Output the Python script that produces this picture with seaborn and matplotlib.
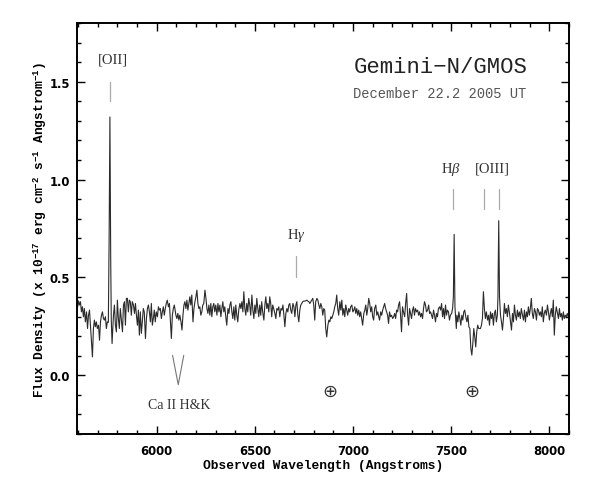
import seaborn as sns
import pandas as pd
import matplotlib.pyplot as plt
from matplotlib.ticker import MultipleLocator

# Spectrum (wavelength in Angstroms, flux in 1e-17 units)
wavelength = [
    5598, 5602, 5607, 5612, 5617, 5622, 5627, 5632, 5637, 5643, 5648, 5653, 5658, 5663,
    5668, 5673, 5678, 5683, 5688, 5693, 5698, 5704, 5709, 5714, 5719, 5724, 5729, 5734,
    5739, 5744, 5749, 5754, 5758, 5762, 5766, 5769, 5773, 5777, 5780, 5785, 5790, 5795,
    5800, 5805, 5810, 5815, 5821, 5826, 5831, 5836, 5841, 5846, 5851, 5856, 5861, 5866,
    5871, 5876, 5882, 5887, 5892, 5897, 5902, 5907, 5912, 5917, 5922, 5927, 5932, 5937,
    5943, 5948, 5953, 5958, 5963, 5968, 5973, 5978, 5983, 5988, 5993, 5998, 6004, 6009,
    6014, 6019, 6024, 6029, 6034, 6039, 6044, 6049, 6054, 6060, 6065, 6070, 6075, 6080,
    6085, 6090, 6095, 6098, 6103, 6108, 6113, 6118, 6124, 6129, 6134, 6139, 6144, 6149,
    6154, 6159, 6164, 6169, 6174, 6179, 6185, 6190, 6195, 6200, 6205, 6210, 6215, 6220,
    6225, 6230, 6235, 6240, 6246, 6251, 6256, 6261, 6266, 6271, 6276, 6281, 6286, 6291,
    6296, 6301, 6307, 6312, 6317, 6322, 6327, 6332, 6337, 6342, 6347, 6352, 6357, 6363,
    6368, 6373, 6378, 6383, 6388, 6393, 6398, 6403, 6408, 6413, 6418, 6424, 6429, 6434,
    6439, 6444, 6449, 6454, 6459, 6464, 6469, 6474, 6479, 6485, 6490, 6495, 6500, 6505,
    6510, 6515, 6520, 6525, 6530, 6535, 6540, 6546, 6551, 6556, 6561, 6566, 6571, 6576,
    6581, 6586, 6591, 6596, 6602, 6607, 6612, 6617, 6622, 6627, 6633, 6638, 6643, 6648,
    6653, 6658, 6663, 6668, 6673, 6678, 6683, 6688, 6694, 6699, 6704, 6709, 6714, 6719,
    6724, 6729, 6734, 6739, 6744, 6749, 6755, 6760, 6765, 6770, 6775, 6780, 6785, 6790,
    6795, 6800, 6805, 6810, 6816, 6821, 6826, 6831, 6836, 6841, 6846, 6851, 6856, 6861,
    6866, 6872, 6877, 6882, 6887, 6892, 6897, 6902, 6907, 6912, 6917, 6922, 6927, 6933,
    6938, 6943, 6948, 6953, 6958, 6963, 6968, 6973, 6978, 6983, 6988, 6994, 6999, 7004,
    7009, 7014, 7019, 7024, 7029, 7034, 7039, 7044, 7049, 7055, 7060, 7065, 7070, 7075,
    7080, 7085, 7090, 7095, 7100, 7105, 7110, 7116, 7121, 7126, 7131, 7135, 7141, 7146,
    7151, 7156, 7161, 7166, 7171, 7176, 7181, 7186, 7191, 7196, 7202, 7207, 7212, 7217,
    7222, 7227, 7232, 7237, 7242, 7247, 7252, 7257, 7263, 7268, 7273, 7278, 7283, 7288,
    7293, 7298, 7303, 7308, 7313, 7318, 7324, 7329, 7334, 7339, 7344, 7349, 7354, 7359,
    7364, 7369, 7374, 7380, 7385, 7390, 7395, 7400, 7405, 7410, 7415, 7420, 7425, 7430,
    7435, 7441, 7446, 7451, 7456, 7461, 7466, 7471, 7476, 7481, 7486, 7491, 7496, 7502,
    7507, 7511, 7515, 7519, 7522, 7526, 7529, 7534, 7539, 7544, 7549, 7554, 7559, 7564,
    7569, 7574, 7580, 7585, 7590, 7595, 7600, 7605, 7610, 7615, 7620, 7625, 7630, 7635,
    7640, 7649, 7654, 7659, 7664, 7669, 7674, 7679, 7685, 7690, 7695, 7700, 7705, 7710,
    7715, 7720, 7725, 7730, 7735, 7738, 7742, 7746, 7751, 7756, 7761, 7766, 7771, 7776,
    7781, 7786, 7791, 7796, 7801, 7807, 7812, 7817, 7822, 7827, 7832, 7837, 7842, 7847,
    7852, 7857, 7863, 7868, 7873, 7878, 7883, 7888, 7893, 7898, 7903, 7908, 7913, 7918,
    7924, 7929, 7934, 7939, 7944, 7949, 7954, 7959, 7964, 7969, 7974, 7979, 7985, 7990,
    7995, 8000, 8005, 8010, 8015, 8020, 8025, 8030, 8035, 8040, 8046, 8051, 8056, 8061,
    8066, 8071, 8076, 8081, 8086, 8091, 8096,
]
flux = [
    0.350, 0.380, 0.359, 0.376, 0.324, 0.350, 0.299, 0.341, 0.273, 0.324, 0.239, 0.307, 0.333, 0.256,
    0.171, 0.094, 0.239, 0.282, 0.248, 0.273, 0.239, 0.256, 0.179, 0.273, 0.307, 0.324, 0.290, 0.282,
    0.299, 0.239, 0.273, 0.270, 0.700, 1.320, 0.600, 0.280, 0.162, 0.239, 0.307, 0.359, 0.256, 0.222,
    0.384, 0.290, 0.239, 0.341, 0.273, 0.222, 0.359, 0.376, 0.256, 0.393, 0.393, 0.324, 0.384, 0.376,
    0.307, 0.376, 0.359, 0.316, 0.367, 0.307, 0.256, 0.333, 0.205, 0.324, 0.214, 0.273, 0.341, 0.324,
    0.188, 0.290, 0.341, 0.359, 0.324, 0.273, 0.367, 0.256, 0.290, 0.333, 0.273, 0.324, 0.299, 0.350,
    0.333, 0.341, 0.290, 0.324, 0.350, 0.307, 0.341, 0.367, 0.384, 0.350, 0.367, 0.273, 0.188, 0.307,
    0.341, 0.359, 0.324, 0.307, 0.290, 0.316, 0.282, 0.307, 0.273, 0.231, 0.307, 0.359, 0.376, 0.341,
    0.384, 0.333, 0.367, 0.401, 0.359, 0.410, 0.273, 0.341, 0.376, 0.401, 0.435, 0.367, 0.341, 0.350,
    0.307, 0.324, 0.359, 0.367, 0.435, 0.393, 0.341, 0.316, 0.359, 0.307, 0.367, 0.299, 0.350, 0.367,
    0.324, 0.359, 0.307, 0.367, 0.324, 0.359, 0.299, 0.341, 0.376, 0.324, 0.350, 0.299, 0.256, 0.341,
    0.316, 0.359, 0.376, 0.324, 0.290, 0.350, 0.282, 0.359, 0.307, 0.273, 0.333, 0.367, 0.341, 0.376,
    0.324, 0.427, 0.341, 0.307, 0.367, 0.324, 0.393, 0.359, 0.307, 0.410, 0.333, 0.290, 0.359, 0.316,
    0.393, 0.341, 0.299, 0.359, 0.307, 0.376, 0.324, 0.282, 0.359, 0.401, 0.341, 0.367, 0.324, 0.401,
    0.367, 0.299, 0.359, 0.341, 0.316, 0.290, 0.341, 0.333, 0.350, 0.299, 0.341, 0.333, 0.359, 0.307,
    0.248, 0.316, 0.341, 0.324, 0.359, 0.367, 0.333, 0.316, 0.367, 0.350, 0.299, 0.359, 0.376, 0.307,
    0.273, 0.333, 0.359, 0.367, 0.376, 0.379, 0.379, 0.381, 0.384, 0.379, 0.376, 0.367, 0.376, 0.384,
    0.393, 0.359, 0.282, 0.376, 0.393, 0.384, 0.359, 0.341, 0.367, 0.350, 0.307, 0.341, 0.333, 0.239,
    0.196, 0.256, 0.282, 0.273, 0.299, 0.290, 0.307, 0.324, 0.350, 0.367, 0.410, 0.341, 0.307, 0.376,
    0.333, 0.384, 0.307, 0.341, 0.299, 0.359, 0.333, 0.307, 0.341, 0.324, 0.350, 0.359, 0.324, 0.333,
    0.350, 0.316, 0.341, 0.307, 0.333, 0.299, 0.324, 0.290, 0.256, 0.316, 0.333, 0.359, 0.307, 0.341,
    0.393, 0.367, 0.324, 0.350, 0.299, 0.282, 0.341, 0.359, 0.307, 0.324, 0.299, 0.282, 0.324, 0.307,
    0.333, 0.350, 0.367, 0.341, 0.324, 0.307, 0.265, 0.324, 0.299, 0.307, 0.290, 0.299, 0.316, 0.290,
    0.333, 0.324, 0.359, 0.376, 0.307, 0.222, 0.350, 0.324, 0.299, 0.367, 0.418, 0.307, 0.256, 0.341,
    0.316, 0.290, 0.333, 0.350, 0.307, 0.341, 0.324, 0.333, 0.307, 0.324, 0.299, 0.316, 0.290, 0.341,
    0.376, 0.359, 0.324, 0.333, 0.359, 0.316, 0.324, 0.307, 0.290, 0.333, 0.307, 0.273, 0.316, 0.299,
    0.341, 0.350, 0.333, 0.367, 0.299, 0.341, 0.290, 0.359, 0.307, 0.333, 0.324, 0.282, 0.307, 0.316,
    0.341, 0.400, 0.720, 0.350, 0.299, 0.239, 0.307, 0.273, 0.324, 0.290, 0.256, 0.307, 0.282, 0.324,
    0.333, 0.299, 0.273, 0.307, 0.248, 0.239, 0.137, 0.103, 0.162, 0.239, 0.196, 0.145, 0.222, 0.256,
    0.239, 0.239, 0.256, 0.290, 0.427, 0.341, 0.290, 0.324, 0.282, 0.307, 0.256, 0.324, 0.290, 0.316,
    0.256, 0.316, 0.333, 0.273, 0.307, 0.400, 0.790, 0.400, 0.307, 0.273, 0.231, 0.290, 0.367, 0.316,
    0.341, 0.299, 0.359, 0.324, 0.282, 0.231, 0.316, 0.273, 0.359, 0.307, 0.282, 0.333, 0.299, 0.324,
    0.290, 0.341, 0.307, 0.282, 0.333, 0.273, 0.324, 0.299, 0.350, 0.307, 0.341, 0.393, 0.316, 0.290,
    0.341, 0.324, 0.282, 0.341, 0.333, 0.307, 0.324, 0.299, 0.350, 0.273, 0.316, 0.333, 0.307, 0.359,
    0.324, 0.282, 0.316, 0.341, 0.299, 0.384, 0.205, 0.307, 0.350, 0.324, 0.290, 0.341, 0.299, 0.316,
    0.282, 0.324, 0.290, 0.307, 0.299, 0.316, 0.299,
]

# line identifications: label, label position, marker wavelength(s), marker range
line_labels = ["[OII]", r"H$\gamma$", r"H$\beta$", "[OIII]"]
label_x = [5776, 6712, 7500, 7711]
label_y = [1.617, 0.72, 1.057, 1.057]
marker_x = [[5762], [6712], [7509], [7666, 7742]]
marker_y = [(1.40, 1.50), (0.504, 0.607), (0.850, 0.952), (0.850, 0.952)]

# Ca II H&K absorption "V" and telluric symbols
cak_x = [6081, 6110, 6138]
cak_y = [0.102, -0.048, 0.102]
telluric_x = [6881, 7605]
telluric_y = -0.077

df = pd.DataFrame({"wavelength": wavelength, "flux": flux})

sns.set_style("ticks")
plt.rcParams["mathtext.fontset"] = "custom"
plt.rcParams["mathtext.rm"] = "Liberation Mono:bold"
plt.rcParams["mathtext.bf"] = "Liberation Mono:bold"
plt.rcParams["mathtext.it"] = "Liberation Serif:italic"
plt.rcParams["text.color"] = "black"
plt.rcParams["axes.labelcolor"] = "black"
plt.rcParams["xtick.color"] = "black"
plt.rcParams["ytick.color"] = "black"

fig = plt.figure(figsize=(5.92, 4.85), dpi=100)
ax = fig.add_axes([0.1306, 0.1031, 0.8306, 0.8474])

sns.lineplot(data=df, x="wavelength", y="flux", ax=ax, color="#2b2b2b",
             linewidth=0.8, sort=False, errorbar=None)

ax.set_xlim(5596, 8100)
ax.set_ylim(-0.3, 1.8)

# annotations
for lab, lx, ly in zip(line_labels, label_x, label_y):
    ax.text(lx, ly, lab, ha="center", va="center", fontsize=10.5,
            family="Liberation Serif", color="#333333")
for xs, (y0, y1) in zip(marker_x, marker_y):
    for xm in xs:
        ax.plot([xm, xm], [y0, y1], color="#aaaaaa", linewidth=0.9)

ax.plot(cak_x, cak_y, color="#777777", linewidth=0.8)
ax.text(6113, -0.15, "Ca II H&K", ha="center", va="center", fontsize=10,
        family="Liberation Serif", color="#333333")
for tx in telluric_x:
    ax.text(tx, telluric_y, "\u2295", ha="center", va="center", fontsize=13,
            family="DejaVu Sans", color="#333333")

ax.text(7446, 1.58, "Gemini\u2212N/GMOS", ha="center", va="center", fontsize=16,
        family=["Liberation Mono", "DejaVu Sans Mono"], color="#222222")
ax.text(7441, 1.441, "December 22.2 2005 UT", ha="center", va="center", fontsize=9.9,
        family="Liberation Mono", color="#555555")

# axes styling
ax.xaxis.set_major_locator(MultipleLocator(500))
ax.xaxis.set_minor_locator(MultipleLocator(100))
ax.yaxis.set_major_locator(MultipleLocator(0.5))
ax.yaxis.set_minor_locator(MultipleLocator(0.1))
ax.tick_params(which="both", direction="in", top=True, right=True, width=1.0,
               color="black", labelcolor="black")
ax.tick_params(which="major", length=6)
ax.tick_params(which="minor", length=3)
for lab in ax.get_xticklabels() + ax.get_yticklabels():
    lab.set_fontfamily("DejaVu Sans")
    lab.set_fontweight("bold")
    lab.set_fontsize(8.4)
ax.tick_params(axis="x", pad=7)
ax.tick_params(axis="y", pad=5)
for sp in ax.spines.values():
    sp.set_linewidth(1.4)
    sp.set_color("black")

ax.set_xlabel("Observed Wavelength (Angstroms)", fontsize=9.25,
              family="Liberation Mono", fontweight="bold", color="black")
ax.set_ylabel("Flux Density (x 10$^{-17}$ erg cm$^{-2}$ s$^{-1}$ Angstrom$^{-1}$)",
              fontsize=9.25, family="Liberation Mono", fontweight="bold", color="black")
ax.xaxis.label.set_va("center")
ax.yaxis.label.set_va("center")
ax.xaxis.set_label_coords(0.5, -0.0754)
ax.yaxis.set_label_coords(-0.0759, 0.5)

fig.savefig("out.png", dpi=100)
